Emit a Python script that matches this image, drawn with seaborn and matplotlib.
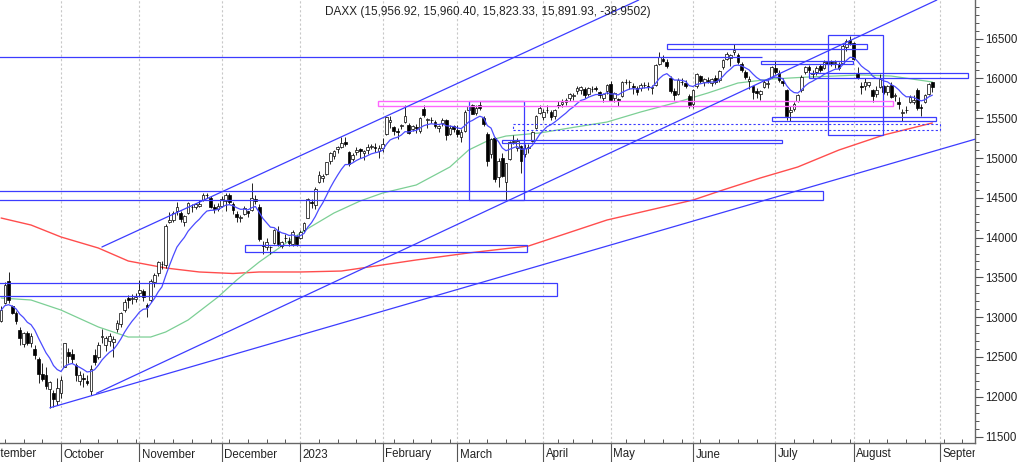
import numpy as np
import pandas as pd
import matplotlib
matplotlib.use("Agg")
import matplotlib.pyplot as plt
import seaborn as sns
from matplotlib.patches import Rectangle
from matplotlib.ticker import MultipleLocator
from matplotlib.transforms import Bbox, TransformedBbox, offset_copy

# Daily OHLC, 2022-09-09 .. 2023-08-30 (Xetra trading days)
open_ = [
    # Sep
    12950, 13180, 13460, 13140, 13050, 12840, 12660, 12800, 12680, 12600, 12480, 12290, 12280, 12100, 12050, 11950,
    # Oct
    12050, 12380, 12560, 12540, 12400, 12200, 12230, 12200, 12070, 12520, 12500, 12750, 12650, 12700, 12690, 12850,
    12920, 13090, 13240, 13230, 13230,
    # Nov
    13300, 13330, 13150, 13210, 13440, 13560, 13670, 13650, 14190, 14220, 14330, 14310, 14190, 14310, 14380, 14390,
    14400, 14470, 14530, 14500, 14390, 14360,
    # Dec
    14400, 14460, 14540, 14420, 14300, 14250, 14300, 14330, 14350, 14480, 14390, 13910, 13880, 13880, 13930, 14080,
    13890, 14000, 13960, 13920, 14020,
    # Jan
    13990, 14100, 14250, 14440, 14410, 14700, 14750, 14800, 14960, 15020, 15110, 15140, 15200, 15070, 14990, 15080,
    15110, 15060, 15100, 15140, 15130, 15090,
    # Feb
    15130, 15300, 15450, 15390, 15340, 15400, 15450, 15420, 15370, 15390, 15340, 15620, 15480, 15480, 15450, 15380,
    15440, 15480, 15300, 15400,
    # Mar
    15350, 15260, 15340, 15600, 15660, 15570, 15660, 15500, 15300, 15050, 15250, 14760, 15000, 14700, 14990, 15200,
    15130, 15150, 15050, 15120, 15210, 15380, 15560,
    # Apr
    15520, 15600, 15580, 15530, 15660, 15680, 15700, 15760, 15780, 15840, 15850, 15870, 15800, 15870, 15880, 15830,
    15760, 15840,
    # May
    15930, 15760, 15740, 15780, 15960, 15950, 15910, 15880, 15880, 15920, 15900, 15880, 15920, 16180, 16250, 16200,
    16000, 15840, 15810, 15950, 15940, 15780,
    # Jun
    15680, 15900, 16030, 15950, 15980, 15940, 16010, 15980, 16140, 16240, 16260, 16330, 16300, 16180, 16080, 15970,
    15900, 15840, 15800, 15890, 15930, 16020,
    # Jul
    16130, 16070, 15970, 15850, 15580, 15620, 15720, 15850, 16080, 16140, 16060, 16080, 16150, 16130, 16210, 16200,
    16190, 16170, 16190, 16400, 16480,
    # Aug
    16440, 16060, 15900, 15900, 15920, 15850, 15800, 15890, 15900, 15830, 15920, 15780, 15700, 15560, 15600, 15700,
    15700, 15860, 15640, 15700, 15800, 15956.92,
]
high = [
    13140, 13440, 13570, 13150, 13080, 12880, 12820, 12830, 12800, 12650, 12500, 12430, 12380, 12200, 12080, 12230,
    12260, 12680, 12610, 12600, 12430, 12320, 12300, 12270, 12400, 12600, 12690, 12850, 12760, 12800, 12760, 12960,
    13070, 13230, 13280, 13290, 13300,
    13470, 13360, 13180, 13480, 13560, 13710, 13700, 14170, 14320, 14340, 14450, 14340, 14290, 14450, 14420, 14440,
    14470, 14560, 14560, 14520, 14420, 14430,
    14520, 14560, 14560, 14450, 14330, 14290, 14400, 14340, 14680, 14530, 14420, 13960, 14000, 13900, 14110, 14140,
    13960, 14050, 14010, 14090, 14030,
    14100, 14200, 14500, 14480, 14630, 14840, 14800, 14950, 15070, 15100, 15150, 15270, 15270, 15090, 15060, 15140,
    15130, 15100, 15170, 15180, 15190, 15160,
    15250, 15520, 15530, 15400, 15380, 15430, 15660, 15440, 15410, 15430, 15520, 15660, 15500, 15510, 15480, 15420,
    15500, 15490, 15420, 15420,
    15410, 15360, 15600, 15700, 15680, 15660, 15710, 15530, 15330, 15250, 15270, 15000, 15060, 14940, 15210, 15290,
    15250, 15160, 15170, 15170, 15340, 15540, 15660,
    15620, 15660, 15600, 15620, 15720, 15740, 15750, 15820, 15820, 15910, 15900, 15890, 15890, 15900, 15900, 15840,
    15820, 15930,
    15970, 15830, 15760, 15970, 15990, 15980, 15940, 15900, 15940, 15960, 15950, 15920, 16180, 16331, 16290, 16240,
    16030, 15880, 16000, 16000, 15980, 15800,
    15870, 16070, 16040, 16010, 16020, 16000, 16040, 16110, 16250, 16330, 16310, 16427, 16320, 16200, 16100, 16030,
    15910, 15880, 15860, 15980, 15990, 16160,
    16220, 16100, 16000, 15870, 15650, 15700, 15800, 16040, 16160, 16170, 16100, 16160, 16180, 16230, 16240, 16230,
    16230, 16200, 16430, 16490, 16530,
    16460, 16140, 15960, 16000, 15960, 15870, 15900, 16060, 15920, 15920, 15960, 15820, 15770, 15620, 15650, 15790,
    15790, 15880, 15680, 15810, 15940, 15960.40,
]
low = [
    12940, 13160, 13180, 13040, 12920, 12650, 12620, 12650, 12620, 12470, 12170, 12200, 12100, 11862, 11870, 11900,
    11980, 12370, 12430, 12420, 12200, 12150, 12120, 12150, 12020, 12400, 12480, 12680, 12580, 12640, 12500, 12820,
    12880, 13070, 13120, 13170, 13190,
    13250, 13200, 13000, 13190, 13380, 13520, 13600, 13620, 14180, 14200, 14290, 14190, 14140, 14300, 14320, 14360,
    14380, 14460, 14500, 14370, 14310, 14330,
    14380, 14340, 14420, 14300, 14200, 14200, 14290, 14260, 14330, 14420, 13960, 13800, 13850, 13791, 13920, 13890,
    13870, 13950, 13900, 13900, 13900,
    13980, 14070, 14240, 14370, 14360, 14680, 14700, 14790, 14930, 14990, 15060, 15120, 15150, 14900, 14960, 15040,
    15000, 14970, 15050, 15110, 15070, 15000,
    15070, 15290, 15380, 15290, 15240, 15360, 15440, 15300, 15340, 15310, 15310, 15520, 15380, 15440, 15380, 15330,
    15400, 15220, 15290, 15330,
    15270, 15200, 15330, 15590, 15550, 15540, 15600, 15400, 14900, 15000, 14700, 14640, 14760, 14458, 14980, 15180,
    15090, 14810, 15010, 15060, 15200, 15370, 15550,
    15480, 15560, 15480, 15490, 15630, 15640, 15670, 15720, 15730, 15800, 15810, 15750, 15780, 15830, 15840, 15750,
    15700, 15810,
    15710, 15700, 15650, 15770, 15930, 15870, 15800, 15790, 15840, 15880, 15860, 15810, 15900, 16170, 16200, 16130,
    15820, 15730, 15790, 15920, 15880, 15630,
    15630, 15880, 15940, 15900, 15940, 15900, 15930, 15960, 16120, 16230, 16150, 16300, 16180, 16080, 15990, 15870,
    15740, 15760, 15730, 15880, 15880, 16010,
    16060, 15960, 15900, 15477, 15460, 15590, 15700, 15830, 16060, 16070, 16010, 16040, 16080, 16120, 16150, 16150,
    16130, 16100, 16180, 16350, 16420,
    16230, 15990, 15810, 15850, 15890, 15700, 15770, 15880, 15800, 15790, 15760, 15720, 15620, 15469, 15560, 15690,
    15680, 15600, 15530, 15690, 15790, 15823.33,
]
close = [
    13088, 13402, 13210, 13050, 12956, 12741, 12803, 12671, 12767, 12531, 12284, 12227, 12139, 12183, 11976, 12114,
    12209, 12671, 12517, 12471, 12273, 12272, 12220, 12172, 12355, 12438, 12649, 12765, 12741, 12767, 12731, 12931,
    13053, 13195, 13211, 13243, 13254,
    13338, 13257, 13130, 13460, 13533, 13689, 13667, 14146, 14224, 14313, 14379, 14234, 14266, 14431, 14380, 14422,
    14428, 14539, 14541, 14383, 14355, 14397,
    14490, 14529, 14447, 14343, 14261, 14264, 14370, 14306, 14497, 14460, 13987, 13893, 13943, 13885, 14098, 13914,
    13940, 13995, 13926, 14071, 13924,
    14069, 14181, 14490, 14436, 14610, 14792, 14775, 14947, 15058, 15087, 15134, 15187, 15181, 14920, 15033, 15103,
    15094, 15082, 15132, 15150, 15126, 15128,
    15180, 15509, 15476, 15345, 15321, 15412, 15523, 15308, 15397, 15380, 15507, 15540, 15482, 15477, 15398, 15403,
    15476, 15290, 15381, 15365,
    15305, 15328, 15578, 15654, 15559, 15632, 15633, 15428, 14959, 15233, 14735, 14967, 14768, 14933, 15195, 15216,
    15210, 14957, 15128, 15142, 15329, 15522, 15629,
    15581, 15603, 15520, 15598, 15655, 15703, 15729, 15808, 15789, 15883, 15896, 15795, 15881, 15863, 15872, 15796,
    15800, 15922,
    15726, 15815, 15734, 15961, 15952, 15955, 15896, 15834, 15914, 15917, 15897, 15898, 16164, 16275, 16223, 16152,
    15842, 15793, 15984, 15952, 15909, 15664,
    15853, 16051, 15964, 15993, 15960, 15990, 15949, 16098, 16231, 16310, 16290, 16358, 16201, 16111, 16023, 15988,
    15830, 15813, 15846, 15949, 15946, 16148,
    16081, 15978, 15938, 15528, 15603, 15673, 15791, 16023, 16141, 16105, 16068, 16125, 16109, 16204, 16177, 16190,
    16211, 16131, 16406, 16470, 16447,
    16240, 16010, 15893, 15952, 15950, 15775, 15852, 15996, 15832, 15904, 15767, 15789, 15676, 15574, 15603, 15771,
    15729, 15622, 15632, 15792, 15930, 15891.93,
]

# Longer moving averages (bar index, value)
ma50_idx = [0, 8, 16, 26, 34, 40, 44, 50, 58, 63, 69, 80, 89, 96, 102, 111, 120, 125, 130, 135, 144, 152,
            162, 171, 180, 189, 197, 206, 216, 230, 238, 249]
ma50_val = [13241, 13216, 13090, 12877, 12751, 12751, 12814, 12965, 13254, 13467, 13693, 14058, 14309, 14460,
            14560, 14661, 14887, 15100, 15214, 15276, 15314, 15377, 15452, 15578, 15691, 15817, 15942, 15992,
            16018, 16043, 16030, 15955]
ma200_idx = [0, 8, 16, 26, 34, 44, 53, 62, 69, 80, 91, 111, 125, 141, 162, 185, 193, 203, 213, 224, 236, 249]
ma200_val = [14246, 14158, 14008, 13869, 13706, 13618, 13568, 13549, 13568, 13568, 13580, 13719, 13807, 13894,
             14221, 14472, 14598, 14749, 14887, 15100, 15289, 15440]

# Drawn analysis: boxes (bar from, bar to, low, high) and trend lines (two points each)
boxes = [
    (-1, 148.6, 13266, 13430),
    (-1, 219.7, 14472, 14585),
    (65.2, 140.6, 13819, 13901),
    (125.1, 139.8, 14472, 15716),
    (133.9, 208.8, 15188, 15220),
    (178.0, 231.5, 16369, 16432),
    (203.2, 227.8, 16181, 16219),
    (221.0, 235.8, 15289, 16545),
    (216.0, 258.5, 16005, 16068),
    (206.0, 250.0, 15459, 15515),
]
pink_box = (100.7, 238.5, 15653, 15710)
dashed_box = (136.8, 251.0, 15352, 15427)
resistance = (-1, 203.4, 16269)
trend_lines = [
    ((25.5, 12044), (250.2, 16985)),
    ((13.05, 11862), (260.4, 15236)),
    ((26.95, 13882), (170.5, 16985)),
]

title = "DAXX (15,956.92, 15,960.40, 15,823.33, 15,891.93, -38.9502)"
holidays = ["2022-12-26", "2023-04-07", "2023-04-10", "2023-05-01"]

assert len(open_) == len(high) == len(low) == len(close) == 250

# trading calendar -> bar index
cal = pd.bdate_range("2022-09-01", "2023-09-22")
cal = cal[~cal.isin(pd.to_datetime(holidays))]
first = cal.get_loc(pd.Timestamp("2022-09-09"))
pos = pd.Series(np.arange(len(cal)) - first, index=cal)
month_pos = pos.groupby([cal.year, cal.month]).first()
month_dates = [pd.Timestamp(year=y, month=m, day=1) for y, m in month_pos.index]
week_pos = pos.groupby(cal.to_period("W")).first()
week_pos = [p for p in week_pos.values if p not in set(month_pos.values)]

df = pd.DataFrame({"o": open_, "h": high, "l": low, "c": close})
df["i"] = np.arange(len(df))
df["ema"] = df["c"].ewm(span=10, adjust=False).mean()

sns.set_style("ticks")
plt.rcParams["font.family"] = ["Liberation Sans", "DejaVu Sans"]

fig = plt.figure(figsize=(10.24, 4.62), dpi=100)
ax_w = 975 / 1024
ax = fig.add_axes([0, 19 / 462, ax_w, 443 / 462])
ax.set_facecolor("white")

# candles
up = df["c"] >= df["o"]
ax.vlines(df["i"], df["l"], df["h"], color="black", lw=0.6, zorder=3)
body = (df["c"] - df["o"]).abs().clip(lower=6)
ax.bar(df["i"], body, bottom=df[["o", "c"]].min(axis=1), width=0.72,
       color=np.where(up, "white", "black"), edgecolor="black", linewidth=0.5, zorder=3)

# moving averages
sns.lineplot(x=ma200_idx, y=ma200_val, ax=ax, color="#ff4d4d", lw=1.0, zorder=2)
sns.lineplot(x=ma50_idx, y=ma50_val, ax=ax, color="#7ccf95", lw=0.9, zorder=2)
sns.lineplot(x=df["i"], y=df["ema"], ax=ax, color="#4b4bff", lw=0.9, zorder=4)

blue = "#3c3cff"
for x0, x1, y0, y1 in boxes:
    ax.add_patch(Rectangle((x0, y0), x1 - x0, y1 - y0, fill=False, ec=blue, lw=0.9, zorder=5))
x0, x1, y0, y1 = pink_box
ax.add_patch(Rectangle((x0, y0), x1 - x0, y1 - y0, fill=False, ec="#ff66ff", lw=1.0, zorder=5))
x0, x1, y0, y1 = dashed_box
ax.add_patch(Rectangle((x0, y0), x1 - x0, y1 - y0, fill=False, ec=blue, lw=0.8,
                       ls=(0, (2, 2)), zorder=5))
ax.hlines(resistance[2], resistance[0], resistance[1], color=blue, lw=0.9, zorder=5)
for (xa, ya), (xb, yb) in trend_lines:
    ax.plot([xa, xb], [ya, yb], color=blue, lw=0.9, zorder=5)

# y axis on the right
yt = np.arange(11500, 16501, 500)
ax.yaxis.tick_right()
ax.set_yticks(yt, labels=[str(v) for v in yt])
ax.yaxis.set_minor_locator(MultipleLocator(100))
ax.tick_params(axis="y", which="major", length=5.5, width=0.8, color="#555555",
               labelcolor="#222222", labelsize=8.3, pad=2)
ax.tick_params(axis="y", which="minor", length=2.8, width=0.7, color="#555555")

# x axis: month ticks + weekly minor ticks
ax.set_xticks(month_pos.values, labels=[""] * len(month_pos))
ax.set_xticks(week_pos, minor=True)
ax.tick_params(axis="x", which="major", direction="out", length=14, width=0.8, color="#555555")
ax.tick_params(axis="x", which="minor", direction="in", length=3, width=0.7, color="#555555")
ax.grid(axis="x", which="major", color="#c8c8c8", ls=(0, (2, 2)), lw=0.8)

# limits last, set_xticks would widen them
ax.set_xlim(-0.3, 260.4)
ax.set_ylim(11419.5, 16985)

for s in ["left", "top"]:
    ax.spines[s].set_visible(False)
for s in ["right", "bottom"]:
    ax.spines[s].set_color("#666666")
    ax.spines[s].set_linewidth(1.0)

clip = TransformedBbox(Bbox([[0, 0], [ax_w, 1]]), fig.transFigure)
lab_tr = offset_copy(ax.get_xaxis_transform(), fig=fig, x=2.3, y=-11.5, units="dots")
for p, d in zip(month_pos.values, month_dates):
    name = "2023" if (d.month == 1) else d.strftime("%B")
    t = fig.text(p, 0, name, transform=lab_tr, ha="left", va="center",
                 fontsize=8.3, color="#222222")
    t.set_clip_on(True)
    t.set_clip_box(clip)

fig.text(325 / 1024, 1 - 12 / 462, title, ha="left", va="center", fontsize=8.5, color="#222222")

fig.savefig("out.png", dpi=100)
